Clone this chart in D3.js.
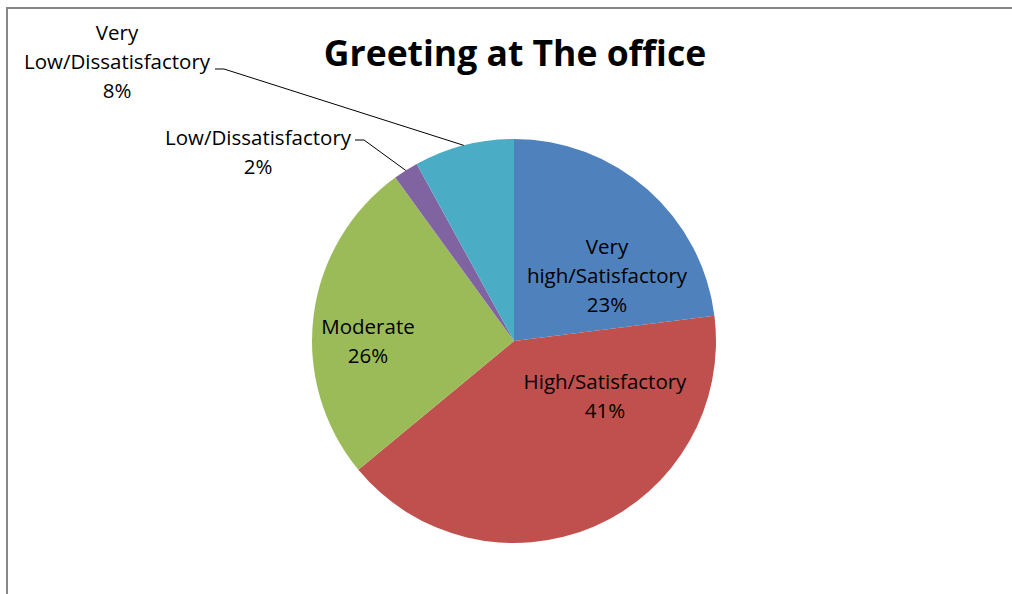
<!DOCTYPE html>
<html>
<head>
  <script src="https://d3js.org/d3.v7.min.js"></script>
  <style>
    body { margin: 0; background: #fff; }
    .chart text { font-family: "Open Sans", sans-serif; fill: #000; }
    .title { font-weight: bold; font-size: 35.5px; text-anchor: middle; }
    .lbl { font-size: 20.5px; text-anchor: middle; }
  </style>
</head>
<body>
  <svg class="chart"></svg>
  <script>
    var categories = ['Very high/Satisfactory', 'High/Satisfactory', 'Moderate', 'Low/Dissatisfactory', 'Very Low/Dissatisfactory'];
    var values = [23, 41, 26, 2, 8];
    var colors = ['#4F81BD', '#C0504D', '#9BBB59', '#8064A2', '#4BACC6'];
    // how each label is broken into lines
    var labelLines = [
      ['Very', 'high/Satisfactory', '23%'],
      ['High/Satisfactory', '41%'],
      ['Moderate', '26%'],
      ['Low/Dissatisfactory', '2%'],
      ['Very', 'Low/Dissatisfactory', '8%']
    ];

    var width = 1012;
    var height = 594;
    var cx = 514, cy = 341, radius = 202;
    var lineH = 29;

    var svg = d3.select('.chart')
      .attr('width', width)
      .attr('height', height);

    // chart frame (runs off the right and bottom edge)
    svg.append('rect')
      .attr('x', 7).attr('y', 8)
      .attr('width', width + 20).attr('height', height + 20)
      .attr('fill', 'none')
      .attr('stroke', '#878787')
      .attr('stroke-width', 2);

    svg.append('text')
      .attr('class', 'title')
      .attr('x', 515).attr('y', 66)
      .text('Greeting at The office');

    var pie = d3.pie().sort(null).value(function (d) { return d; });
    var arcs = pie(values);
    var arc = d3.arc().innerRadius(0).outerRadius(radius);
    var edge = d3.arc().innerRadius(radius).outerRadius(radius);

    var g = svg.append('g').attr('transform', 'translate(' + cx + ',' + cy + ')');

    g.selectAll('path')
      .data(arcs)
      .enter()
      .append('path')
      .attr('d', arc)
      .attr('fill', function (d, i) { return colors[i]; });

    // label block centre relative to pie centre, and leader start if outside
    var labelPos = [
      { x: 93, y: -65 },
      { x: 91, y: 55 },
      { x: -146, y: 0 },
      { x: -256, y: -189, leader: [-159, -201] },
      { x: -397, y: -279, leader: [-299, -272] }
    ];

    arcs.forEach(function (d, i) {
      var p = labelPos[i];
      var lines = labelLines[i];
      var y0 = p.y - (lines.length - 1) * lineH / 2;
      var t = g.append('text').attr('class', 'lbl');
      lines.forEach(function (s, k) {
        t.append('tspan')
          .attr('x', p.x)
          .attr('y', y0 + k * lineH)
          .attr('dy', '0.35em')
          .text(s);
      });
      if (p.leader) {
        var end = edge.centroid(d);
        var lx = p.leader[0], ly = p.leader[1];
        g.append('path')
          .attr('d', 'M' + lx + ',' + ly + 'H' + (lx + 9) + 'L' + end[0] + ',' + end[1])
          .attr('fill', 'none')
          .attr('stroke', '#000')
          .attr('stroke-width', 1);
      }
    });
  </script>
</body>
</html>
